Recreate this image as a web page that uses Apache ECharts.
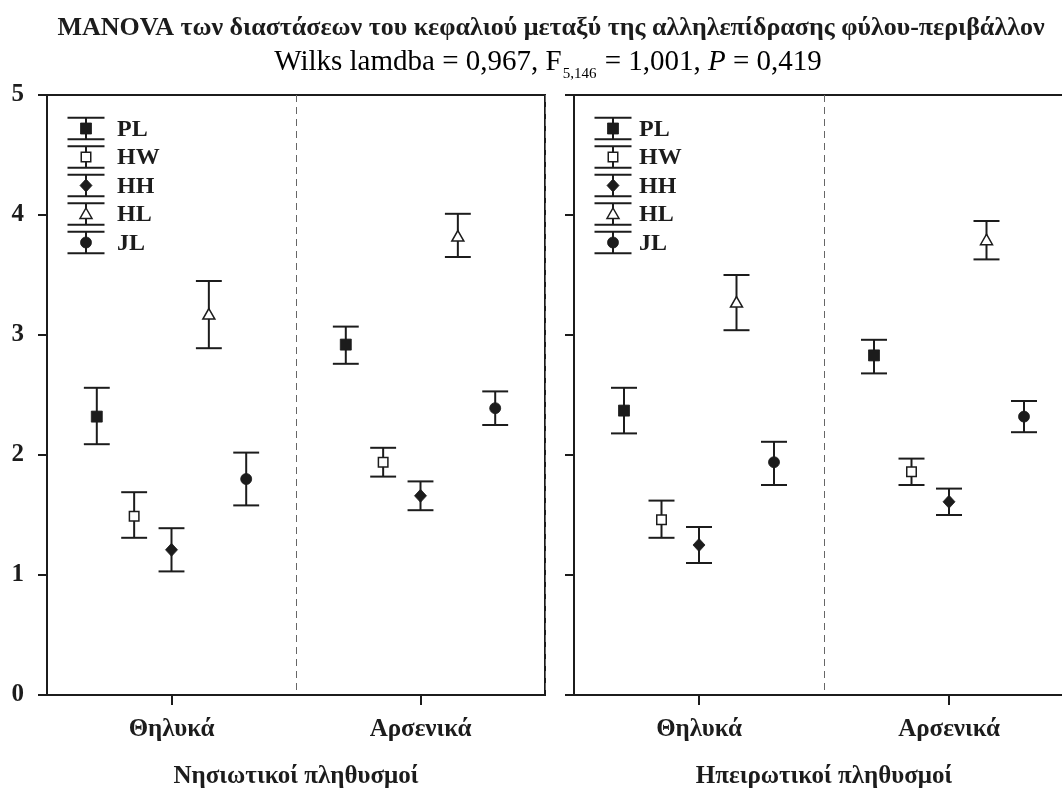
<!DOCTYPE html>
<html>
<head>
<meta charset="utf-8">
<script src="https://cdn.jsdelivr.net/npm/echarts@6/dist/echarts.min.js"></script>
<style>
html,body{margin:0;padding:0;background:#fff;}
#chart{width:1062px;height:791px;}
</style>
</head>
<body>
<div id="chart"></div>
<script>
// ---------- data ----------
const categories = ['Θηλυκά', 'Αρσενικά'];
const variables = ['PL', 'HW', 'HH', 'HL', 'JL'];
const panelNames = ['Νησιωτικοί πληθυσμοί', 'Ηπειρωτικοί πληθυσμοί'];
const yTicks = [0, 1, 2, 3, 4, 5];

// Νησιωτικοί πληθυσμοί (island): mean, lower, upper per category [Θηλυκά, Αρσενικά]
const islandMean  = { PL: [2.32, 2.92], HW: [1.49, 1.94], HH: [1.21, 1.66], HL: [3.17, 3.82], JL: [1.80, 2.39] };
const islandLow   = { PL: [2.09, 2.76], HW: [1.31, 1.82], HH: [1.03, 1.54], HL: [2.89, 3.65], JL: [1.58, 2.25] };
const islandHigh  = { PL: [2.56, 3.07], HW: [1.69, 2.06], HH: [1.39, 1.78], HL: [3.45, 4.01], JL: [2.02, 2.53] };

// Ηπειρωτικοί πληθυσμοί (mainland)
const mainMean = { PL: [2.37, 2.83], HW: [1.46, 1.86], HH: [1.25, 1.61], HL: [3.27, 3.79], JL: [1.94, 2.32] };
const mainLow  = { PL: [2.18, 2.68], HW: [1.31, 1.75], HH: [1.10, 1.50], HL: [3.04, 3.63], JL: [1.75, 2.19] };
const mainHigh = { PL: [2.56, 2.96], HW: [1.62, 1.97], HH: [1.40, 1.72], HL: [3.50, 3.95], JL: [2.11, 2.45] };

// ---------- style ----------
const INK = '#1c1c1c';
const FONT = '"Liberation Serif", "DejaVu Serif", serif';
const markerDefs = {
  PL: { shape: 'square',   filled: true },
  HW: { shape: 'square',   filled: false },
  HH: { shape: 'diamond',  filled: true },
  HL: { shape: 'triangle', filled: false },
  JL: { shape: 'circle',   filled: true }
};

function markerShape(name, cx, cy) {
  const d = markerDefs[name];
  const fill = d.filled ? INK : '#fff';
  const st = { fill: fill, stroke: INK, lineWidth: d.filled ? 0.8 : 1.5 };
  if (d.shape === 'square') {
    const s = d.filled ? 11 : 9.5;
    return { type: 'rect', shape: { x: cx - s / 2, y: cy - s / 2, width: s, height: s }, style: st, z2: 5 };
  }
  if (d.shape === 'diamond') {
    const w = 6, h = 6.5;
    return { type: 'polygon', shape: { points: [[cx, cy - h], [cx + w, cy], [cx, cy + h], [cx - w, cy]] }, style: st, z2: 5 };
  }
  if (d.shape === 'triangle') {
    return { type: 'polygon', shape: { points: [[cx, cy - 6], [cx + 6, cy + 4.5], [cx - 6, cy + 4.5]] }, style: st, z2: 5 };
  }
  return { type: 'circle', shape: { cx: cx, cy: cy, r: 5.5 }, style: st, z2: 5 };
}

function makeSeries(panelIdx, meanObj, lowObj, highObj) {
  return variables.map((v, k) => ({
    type: 'custom',
    name: v,
    xAxisIndex: panelIdx,
    yAxisIndex: panelIdx,
    data: categories.map((c, i) => [i, meanObj[v][i], lowObj[v][i], highObj[v][i]]),
    renderItem: function (params, api) {
      const bw = api.size([1, 0])[0];
      const p = api.coord([api.value(0), api.value(1)]);
      const x = p[0] + (k - 2) * 0.15 * bw;
      const yLo = api.coord([api.value(0), api.value(2)])[1];
      const yHi = api.coord([api.value(0), api.value(3)])[1];
      const half = 0.052 * bw;
      const ls = { stroke: INK, lineWidth: 2 };
      return {
        type: 'group',
        children: [
          { type: 'line', shape: { x1: x, y1: yHi, x2: x, y2: yLo }, style: ls },
          { type: 'line', shape: { x1: x - half, y1: yHi, x2: x + half, y2: yHi }, style: ls },
          { type: 'line', shape: { x1: x - half, y1: yLo, x2: x + half, y2: yLo }, style: ls },
          markerShape(v, x, p[1])
        ]
      };
    }
  }));
}

// legend drawn as graphic (error-bar symbol + marker + label)
function legendGraphic(cx, textX, y0) {
  const children = [];
  const pitch = 28.5, halfH = 10.8, halfW = 18.5;
  variables.forEach((v, k) => {
    const cy = y0 + k * pitch;
    const ls = { stroke: INK, lineWidth: 2 };
    children.push({ type: 'line', shape: { x1: cx, y1: cy - halfH, x2: cx, y2: cy + halfH }, style: ls });
    children.push({ type: 'line', shape: { x1: cx - halfW, y1: cy - halfH, x2: cx + halfW, y2: cy - halfH }, style: ls });
    children.push({ type: 'line', shape: { x1: cx - halfW, y1: cy + halfH, x2: cx + halfW, y2: cy + halfH }, style: ls });
    children.push(markerShape(v, cx, cy));
    children.push({
      type: 'text', x: textX, y: cy + 1,
      style: { text: v, font: 'bold 24px ' + FONT, fill: INK, textVerticalAlign: 'middle', textAlign: 'left' }
    });
  });
  return { type: 'group', children: children };
}

const gridDefs = [
  { left: 47, top: 95, width: 498, height: 600 },
  { left: 574, top: 95, width: 500, height: 600 }
];

const option = {
  animation: false,
  backgroundColor: '#fff',
  grid: gridDefs.map(g => Object.assign({
    show: true, borderColor: INK, borderWidth: 2, backgroundColor: 'transparent',
    containLabel: false, outerBoundsMode: 'none'
  }, g)),
  xAxis: [0, 1].map(i => ({
    type: 'category',
    gridIndex: i,
    data: categories,
    boundaryGap: true,
    name: panelNames[i],
    nameLocation: 'middle',
    nameGap: 69,
    nameTextStyle: { fontFamily: FONT, fontWeight: 'bold', fontSize: 25, color: INK },
    axisLine: { show: true, lineStyle: { color: INK, width: 2 } },
    axisTick: { show: true, alignWithLabel: true, length: 10, lineStyle: { color: INK, width: 2 } },
    axisLabel: { margin: 22, fontFamily: FONT, fontWeight: 'bold', fontSize: 25, color: INK },
    splitLine: { show: true, lineStyle: { color: '#666', type: [7, 5], width: 1 } }
  })),
  yAxis: [0, 1].map(i => ({
    type: 'value',
    gridIndex: i,
    min: yTicks[0],
    max: yTicks[yTicks.length - 1],
    interval: 1,
    axisLine: { show: true, lineStyle: { color: INK, width: 2 } },
    axisTick: { show: true, length: 9, lineStyle: { color: INK, width: 2 } },
    axisLabel: { show: i === 0, margin: 23, fontFamily: FONT, fontWeight: 'bold', fontSize: 25, color: INK },
    splitLine: { show: false }
  })),
  series: [].concat(
    makeSeries(0, islandMean, islandLow, islandHigh),
    makeSeries(1, mainMean, mainLow, mainHigh)
  ),
  graphic: [
    {
      type: 'text', x: 551, y: 28,
      style: {
        text: 'MANOVA των διαστάσεων του κεφαλιού μεταξύ της αλληλεπίδρασης φύλου-περιβάλλον',
        font: 'bold 26px ' + FONT, fill: INK, textAlign: 'center', textVerticalAlign: 'middle'
      }
    },
    {
      type: 'text', x: 548, y: 62,
      style: {
        text: '{n|Wilks lamdba = 0,967, F}{s|5,146}{n| = 1,001, }{i|P}{n| = 0,419}',
        textAlign: 'center', textVerticalAlign: 'middle',
        rich: {
          n: { fontFamily: FONT, fontSize: 29, color: INK, lineHeight: 30, verticalAlign: 'bottom' },
          i: { fontFamily: FONT, fontSize: 29, fontStyle: 'italic', color: INK, lineHeight: 30, verticalAlign: 'bottom' },
          s: { fontFamily: FONT, fontSize: 15, color: INK, lineHeight: 30, verticalAlign: 'bottom', padding: [0, 1, -5, 1] }
        }
      }
    },
    legendGraphic(86, 117, 128.5),
    legendGraphic(613, 639, 128.5)
  ]
};

const chart = echarts.init(document.getElementById('chart'), null, { renderer: 'canvas' });
chart.setOption(option);
</script>
</body>
</html>
